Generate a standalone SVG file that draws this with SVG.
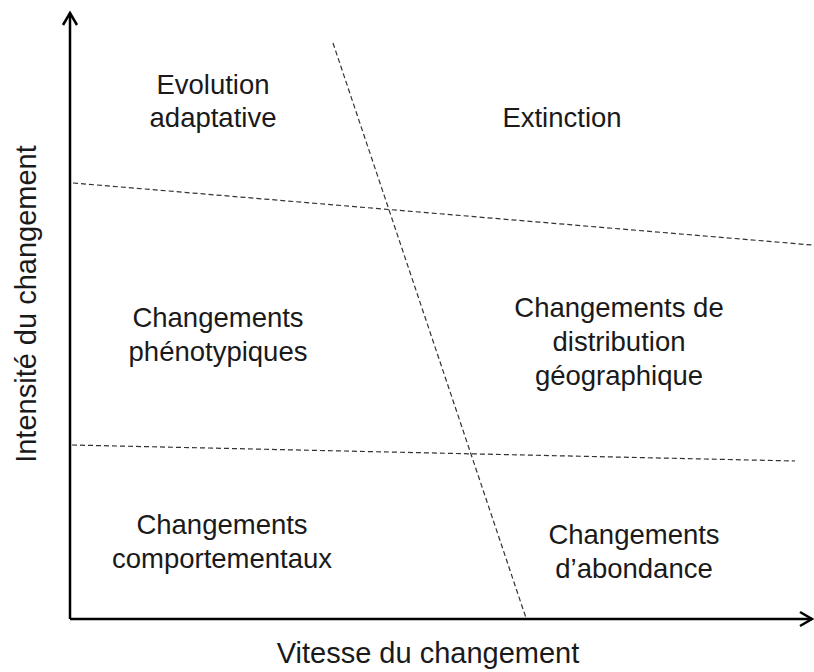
<svg xmlns="http://www.w3.org/2000/svg" width="814" height="672" viewBox="0 0 814 672">
<style>
text{font-family:"Liberation Sans",Arial,sans-serif;font-size:27.5px;fill:#1a1a1a;text-anchor:middle}
.ax{font-size:29px}
.axis{stroke:#000;stroke-width:2.5;fill:none}
.dash{stroke:#333;stroke-width:1.2;stroke-dasharray:5 3;fill:none}
</style>
<rect width="814" height="672" fill="#fff"/>
<g id="connectors">
<path class="axis" d="M70 619V13M70 619H812"/>
<path class="axis" d="M63 25L70 13L77 25M800 612L812 619L800 626"/>
<line class="dash" x1="333" y1="43" x2="526" y2="618"/>
<line class="dash" x1="73" y1="183" x2="812" y2="245"/>
<line class="dash" x1="72" y1="445" x2="795" y2="461"/>
</g>
<g id="evolution"><text x="213" y="94">Evolution</text><text x="213" y="127">adaptative</text></g>
<g id="extinction"><text x="562" y="127">Extinction</text></g>
<g id="phenotypiques"><text x="218" y="327">Changements</text><text x="218" y="361">phénotypiques</text></g>
<g id="distribution"><text x="619" y="317">Changements de</text><text x="619" y="351">distribution</text><text x="619" y="385">géographique</text></g>
<g id="comportementaux"><text x="222" y="534">Changements</text><text x="222" y="568">comportementaux</text></g>
<g id="abondance"><text x="634" y="544">Changements</text><text x="634" y="578">d’abondance</text></g>
<g id="axis-x"><text class="ax" x="428" y="663">Vitesse du changement</text></g>
<g id="axis-y"><text class="ax" transform="translate(36 304) rotate(-90)">Intensité du changement</text></g>
</svg>
